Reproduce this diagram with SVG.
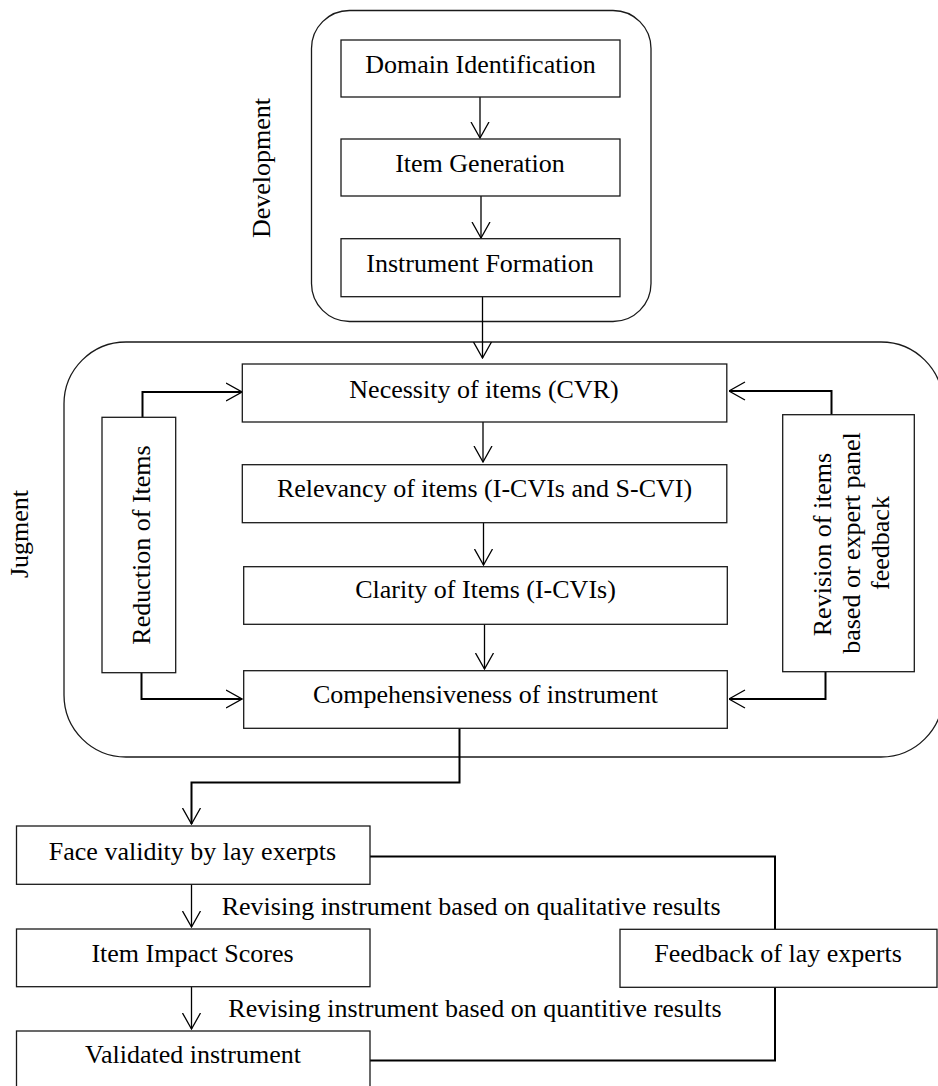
<svg xmlns="http://www.w3.org/2000/svg" width="938" height="1086" viewBox="0 0 938 1086">
<style>
.box{fill:#fff;stroke:#1a1a1a;stroke-width:1.3}
.cont{fill:none;stroke:#1a1a1a;stroke-width:1.3}
.t{font-family:"Liberation Serif","Times New Roman",serif;font-size:26px;fill:#000;text-anchor:middle}
.ts{font-family:"Liberation Serif","Times New Roman",serif;font-size:26px;fill:#000;text-anchor:start}
.c{fill:none;stroke:#000;stroke-width:1.3}
.ck{fill:none;stroke:#000;stroke-width:2}
</style>
<defs>
<marker id="arr" markerUnits="userSpaceOnUse" viewBox="0 0 17 20" refX="16.5" refY="10" markerWidth="17" markerHeight="20" orient="auto">
<path d="M0.5,1 L16.5,10 L0.5,19" fill="none" stroke="#000" stroke-width="1.3"/>
</marker>
</defs>
<rect width="938" height="1086" fill="#fff"/>
<g id="development-group">
<rect class="cont" x="311.5" y="10.5" width="339.5" height="311" rx="38"/>
<text class="t" transform="translate(270,168) rotate(-90)">Development</text>
</g>
<g id="jugment-group">
<rect class="cont" x="64" y="342" width="879" height="415" rx="62"/>
<text class="t" transform="translate(27.5,534) rotate(-90)">Jugment</text>
</g>
<g id="connectors">
<path class="c" d="M480,97 V138" marker-end="url(#arr)"/>
<path class="c" d="M481,196 V238" marker-end="url(#arr)"/>
<path class="c" d="M482.5,294 V358" marker-end="url(#arr)"/>
<path class="c" d="M483,422 V462" marker-end="url(#arr)"/>
<path class="c" d="M483.5,523 V565" marker-end="url(#arr)"/>
<path class="c" d="M484.5,624 V669" marker-end="url(#arr)"/>
<path class="ck" d="M142.5,417 V392 H242" marker-end="url(#arr)"/>
<path class="ck" d="M141.5,673 V699 H242" marker-end="url(#arr)"/>
<path class="ck" d="M831.5,415 V391 H729" marker-end="url(#arr)"/>
<path class="ck" d="M825.5,672 V699 H729" marker-end="url(#arr)"/>
<path class="ck" d="M459.5,728 V782.5 H191.5 V824" marker-end="url(#arr)"/>
<path class="c" d="M191.5,884 V927" marker-end="url(#arr)"/>
<path class="c" d="M191.5,987 V1029" marker-end="url(#arr)"/>
<path class="ck" d="M370,856.5 H775 V929"/>
<path class="ck" d="M775,987 V1060.5 H370"/>
</g>
<g id="domain-identification">
<rect class="box" x="341" y="40" width="279" height="57"/>
<text class="t" x="480.5" y="72.5">Domain Identification</text>
</g>
<g id="item-generation">
<rect class="box" x="341" y="139" width="279" height="57"/>
<text class="t" x="480" y="171.7">Item Generation</text>
</g>
<g id="instrument-formation">
<rect class="box" x="341" y="238.7" width="279" height="58"/>
<text class="t" x="480" y="271.7">Instrument Formation</text>
</g>
<g id="necessity">
<rect class="box" x="242.3" y="364" width="484.5" height="58"/>
<text class="t" x="484" y="398.3">Necessity of items (CVR)</text>
</g>
<g id="relevancy">
<rect class="box" x="242.3" y="464.7" width="484.5" height="58"/>
<text class="t" x="484.5" y="496.7">Relevancy of items (I-CVIs and S-CVI)</text>
</g>
<g id="clarity">
<rect class="box" x="243.7" y="566.7" width="483.6" height="57.6"/>
<text class="t" x="485.5" y="598.3">Clarity of Items (I-CVIs)</text>
</g>
<g id="comprehensiveness">
<rect class="box" x="243.7" y="670.7" width="483.6" height="57.6"/>
<text class="t" x="485.5" y="703.3">Compehensiveness of instrument</text>
</g>
<g id="reduction">
<rect class="box" x="102" y="417.3" width="73.7" height="255.4"/>
<text class="t" transform="translate(150,545) rotate(-90)">Reduction of Items</text>
</g>
<g id="revision">
<rect class="box" x="782.7" y="414.7" width="131.6" height="257"/>
<text class="t" transform="translate(830.5,544.5) rotate(-90)">Revision of items</text>
<text class="t" transform="translate(859.5,543) rotate(-90)">based or expert panel</text>
<text class="t" transform="translate(888.5,543) rotate(-90)">feedback</text>
</g>
<g id="face-validity">
<rect class="box" x="16.5" y="826" width="353.5" height="58.3"/>
<text class="t" x="192.5" y="860">Face validity by lay exerpts</text>
</g>
<g id="item-impact">
<rect class="box" x="16.5" y="929" width="353.5" height="57.7"/>
<text class="t" x="192.5" y="961.7">Item Impact Scores</text>
</g>
<g id="validated">
<rect class="box" x="16.5" y="1031" width="353.5" height="70"/>
<text class="t" x="193" y="1063">Validated instrument</text>
</g>
<g id="feedback">
<rect class="box" x="620" y="929.3" width="317" height="58"/>
<text class="t" x="778" y="961.7">Feedback of lay experts</text>
</g>
<g id="labels">
<text class="ts" x="221.7" y="915">Revising instrument based on qualitative results</text>
<text class="ts" x="228.3" y="1016.7">Revising instrument based on quantitive results</text>
</g>
</svg>
